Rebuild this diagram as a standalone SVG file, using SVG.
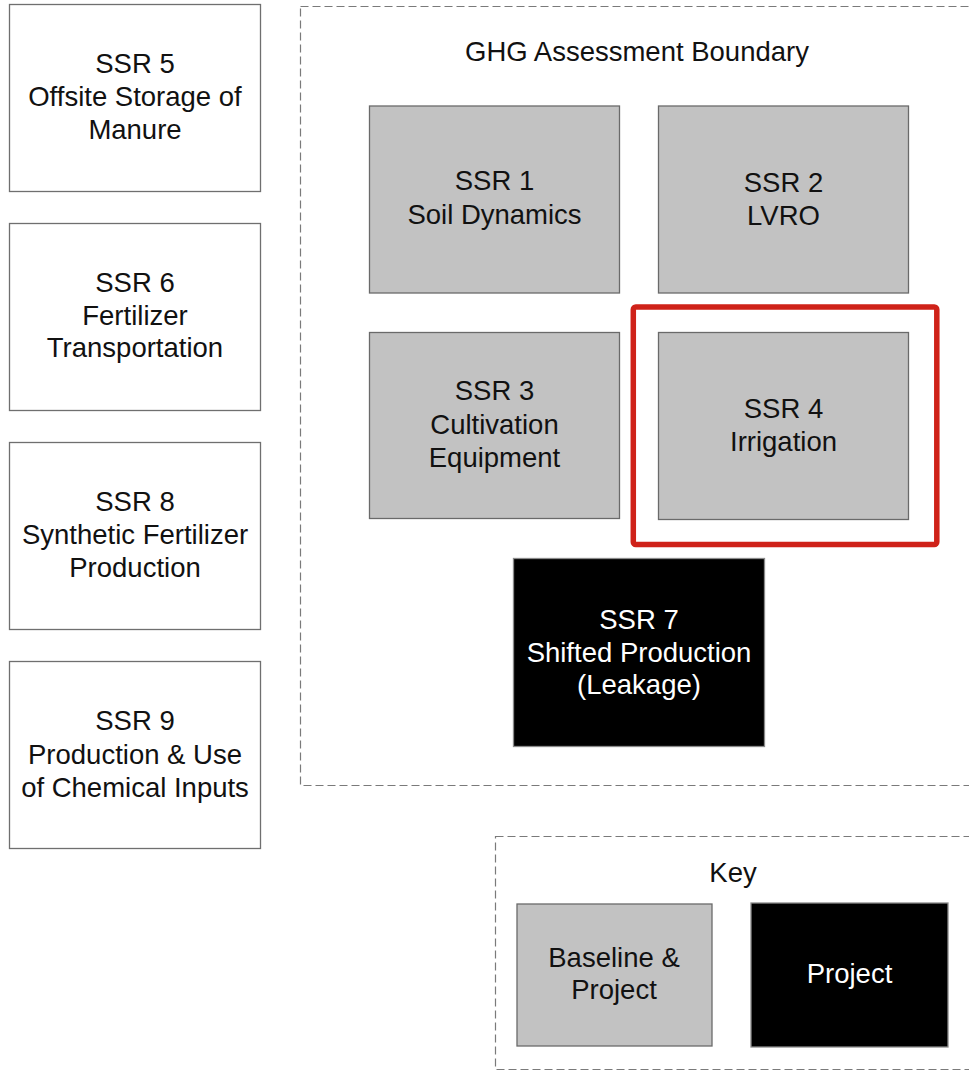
<svg xmlns="http://www.w3.org/2000/svg" width="969" height="1074" viewBox="0 0 969 1074">
  <style>
    text { font-family: "Liberation Sans", Arial, sans-serif; font-size: 27.5px; fill: #111; text-anchor: middle; }
    .light { fill: #fff; stroke: #6f6f6f; stroke-width: 1.3; }
    .grey { fill: #c2c2c2; stroke: #6a6a6a; stroke-width: 1.3; }
    .dark { fill: #000; stroke: #8a8a8a; stroke-width: 1.3; }
    .boundary { fill: none; stroke: #7a7a7a; stroke-width: 1.2; stroke-dasharray: 8 4; }
    .inv { fill: #fff; }
  </style>

  <!-- Assessment boundary and key frame -->
  <g id="ghg-boundary">
    <rect class="boundary" x="300.5" y="6.5" width="690" height="779"/>
    <text x="637" y="61">GHG Assessment Boundary</text>
  </g>

  <!-- Sources outside the boundary -->
  <g id="ssr5">
    <rect class="light" x="9.5" y="4.5" width="251" height="187"/>
    <text x="135" y="72.5">SSR 5</text>
    <text x="135" y="106">Offsite Storage of</text>
    <text x="135" y="138.5">Manure</text>
  </g>
  <g id="ssr6">
    <rect class="light" x="9.5" y="223.5" width="251" height="187"/>
    <text x="135" y="291.5">SSR 6</text>
    <text x="135" y="325">Fertilizer</text>
    <text x="135" y="357">Transportation</text>
  </g>
  <g id="ssr8">
    <rect class="light" x="9.5" y="442.5" width="251" height="187"/>
    <text x="135" y="510.5">SSR 8</text>
    <text x="135" y="543.5">Synthetic Fertilizer</text>
    <text x="135" y="576.5">Production</text>
  </g>
  <g id="ssr9">
    <rect class="light" x="9.5" y="661.5" width="251" height="187"/>
    <text x="135" y="730">SSR 9</text>
    <text x="135" y="763.5">Production &amp; Use</text>
    <text x="135" y="796.5">of Chemical Inputs</text>
  </g>

  <!-- Sources inside the boundary -->
  <g id="ssr1">
    <rect class="grey" x="369.5" y="106" width="250" height="187"/>
    <text x="494.5" y="190">SSR 1</text>
    <text x="494.5" y="224">Soil Dynamics</text>
  </g>
  <g id="ssr2">
    <rect class="grey" x="658.5" y="106" width="250" height="187"/>
    <text x="783.5" y="191.5">SSR 2</text>
    <text x="783.5" y="224.5">LVRO</text>
  </g>
  <g id="ssr3">
    <rect class="grey" x="369.5" y="332.5" width="250" height="186"/>
    <text x="494.5" y="400">SSR 3</text>
    <text x="494.5" y="433.5">Cultivation</text>
    <text x="494.5" y="466.5">Equipment</text>
  </g>
  <g id="ssr4">
    <rect class="grey" x="658.5" y="332.5" width="250" height="187"/>
    <text x="783.5" y="417.5">SSR 4</text>
    <text x="783.5" y="451">Irrigation</text>
  </g>
  <g id="ssr4-highlight">
    <rect x="633.3" y="307" width="303.5" height="237.5" rx="2.5" fill="none" stroke="#cf2219" stroke-width="5.5"/>
  </g>
  <g id="ssr7">
    <rect class="dark" x="513.5" y="558.5" width="251" height="188"/>
    <text class="inv" x="639" y="628.5">SSR 7</text>
    <text class="inv" x="639" y="661.5">Shifted Production</text>
    <text class="inv" x="639" y="694">(Leakage)</text>
  </g>

  <!-- Legend -->
  <g id="key">
    <rect class="boundary" x="495.5" y="836.5" width="500" height="233"/>
    <text x="733" y="881.5">Key</text>
  </g>
  <g id="key-baseline-project">
    <rect class="grey" x="517" y="904" width="195" height="142"/>
    <text x="614" y="966.5">Baseline &amp;</text>
    <text x="614" y="998.5">Project</text>
  </g>
  <g id="key-project">
    <rect class="dark" x="751" y="903" width="197" height="144"/>
    <text class="inv" x="849.5" y="982.5">Project</text>
  </g>

  <!-- No connectors in this layout -->
  <g id="connectors"/>
</svg>
